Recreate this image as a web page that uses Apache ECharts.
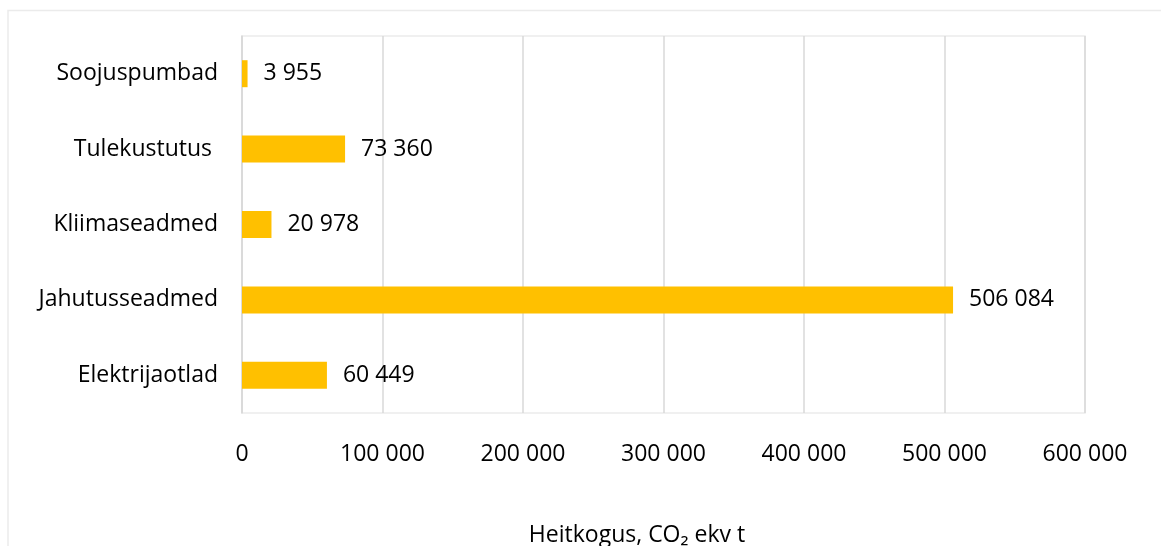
<!DOCTYPE html>
<html>
<head>
<meta charset="utf-8">
<script src="https://cdn.jsdelivr.net/npm/echarts@6/dist/echarts.min.js"></script>
<style>
  html, body { margin: 0; padding: 0; background: #fff; }
  #chart { width: 1161px; height: 546px; }
</style>
</head>
<body>
<div id="chart"></div>
<script>
// Emissions by equipment group (bottom to top on the category axis)
const categories = ['Elektrijaotlad', 'Jahutusseadmed', 'Kliimaseadmed', 'Tulekustutus ', 'Soojuspumbad'];
const emissions = [60449, 506084, 20978, 73360, 3955];
const axisTitle = 'Heitkogus, CO\u2082 ekv t';
const axisMax = 600000;
const axisStep = 100000;

const FONT = '"Open Sans", "DejaVu Sans", sans-serif';

// Thousands grouped with a space, e.g. 506 084
function spaced(v) {
  return String(Math.round(v)).replace(/\B(?=(\d{3})+(?!\d))/g, ' ');
}

const chart = echarts.init(document.getElementById('chart'), null, { renderer: 'canvas' });

chart.setOption({
  backgroundColor: '#fff',
  animation: false,
  grid: {
    left: 242, right: 76, top: 36, bottom: 133,
    show: true, borderColor: '#ebebeb', borderWidth: 1.5, backgroundColor: 'transparent'
  },
  xAxis: {
    type: 'value',
    min: 0, max: axisMax, interval: axisStep,
    axisLine: { show: false },
    axisTick: { show: false },
    splitLine: { show: true, lineStyle: { color: '#d9d9d9', width: 1.5 } },
    axisLabel: {
      margin: 30,
      color: '#000', fontFamily: FONT, fontSize: 23,
      formatter: spaced
    }
  },
  yAxis: {
    type: 'category',
    data: categories,
    axisTick: { show: false },
    axisLine: { show: true, lineStyle: { color: '#d9d9d9', width: 1.5 } },
    axisLabel: { margin: 24, color: '#000', fontFamily: FONT, fontSize: 23 }
  },
  series: [{
    type: 'bar',
    data: emissions,
    barWidth: 27,
    itemStyle: { color: '#FFC000' },
    label: {
      show: true, position: 'right', distance: 16,
      color: '#000', fontFamily: FONT, fontSize: 23,
      formatter: p => spaced(p.value)
    }
  }],
  graphic: [
    // outer chart frame (top and left edges)
    { type: 'polyline', silent: true, shape: { points: [[8, 560], [8, 10.5], [1170, 10.5]] },
      style: { stroke: '#ebebeb', lineWidth: 1.5, fill: null } },
    // value axis title
    { type: 'text', silent: true, x: 637, y: 535,
      style: { text: axisTitle, align: 'center', verticalAlign: 'middle',
               fill: '#000', font: '23px ' + FONT } }
  ]
});
</script>
</body>
</html>
